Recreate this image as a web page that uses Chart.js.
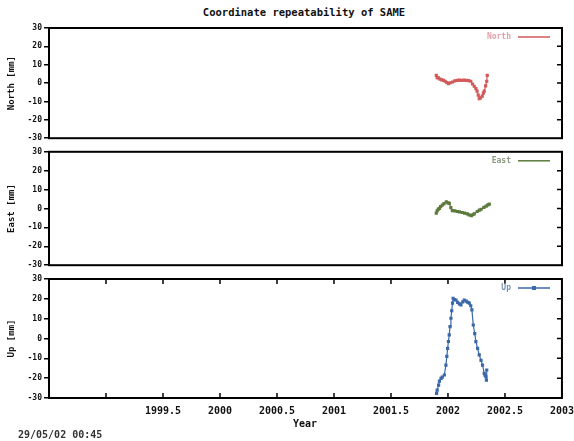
<!DOCTYPE html>
<html>
<head>
<meta charset="utf-8">
<script src="https://cdn.jsdelivr.net/npm/chart.js@4.4.0/dist/chart.umd.min.js"></script>
<style>
body{margin:0;background:#fff;width:574px;height:441px;position:relative;overflow:hidden;font-family:'DejaVu Sans Mono',monospace;font-weight:bold;color:#111}
canvas{position:absolute;left:0}
.t{position:absolute;white-space:nowrap}
</style>
</head>
<body>
<div class="t" style="left:0;width:608px;text-align:center;top:6px;font-size:10.5px">Coordinate repeatability of SAME</div>
<canvas id="north" width="574" height="145" style="top:0"></canvas>
<canvas id="east" width="574" height="127" style="top:145px"></canvas>
<canvas id="up" width="574" height="169" style="top:272px"></canvas>
<div class="t" style="left:293px;top:418px;font-size:10px">Year</div>
<div class="t" style="left:18px;top:429px;font-size:10px;color:#333">29/05/02 00:45</div>
<script>
// Time axis and tick labels
let xMin = 1998.5, xMax = 2003;
let xTickLabels = ['', '', '1999.5', '2000', '2000.5', '2001', '2001.5', '2002', '2002.5', '2003'];
let yTicks = [-30, -20, -10, 0, 10, 20, 30];

// North component (mm)
let northYears = [2001.897, 2001.905, 2001.915, 2001.93, 2001.945, 2001.96, 2001.975, 2001.99, 2002.005, 2002.02,
  2002.04, 2002.06, 2002.08, 2002.10, 2002.12, 2002.14, 2002.16, 2002.18, 2002.20, 2002.215,
  2002.23, 2002.245, 2002.255, 2002.265, 2002.274, 2002.285, 2002.30, 2002.31, 2002.318, 2002.33, 2002.34, 2002.344];
let northMm = [4.2, 3.0, 2.8, 2.2, 1.8, 1.5, 1.0, 0.3, -0.3, 0.2,
  0.6, 1.2, 1.5, 1.6, 1.5, 1.6, 1.5, 1.3, 1.0, -0.5,
  -1.7, -3.0, -4.4, -6.5, -8.5, -8.0, -7.1, -5.5, -4.4, -1.5, 1.0, 4.2];

// East component (mm)
let eastYears = [2001.897, 2001.905, 2001.915, 2001.924, 2001.935, 2001.95, 2001.965, 2001.985, 2002.0, 2002.011,
  2002.025, 2002.038, 2002.06, 2002.082, 2002.10, 2002.125, 2002.145, 2002.169, 2002.185, 2002.204,
  2002.218, 2002.23, 2002.256, 2002.275, 2002.291, 2002.315, 2002.335, 2002.35, 2002.362];
let eastMm = [-2.4, -1.2, -0.3, 0.1, 1.0, 1.8, 2.6, 3.5, 3.0, 2.7,
  0.5, -1.1, -1.3, -1.6, -1.8, -2.1, -2.4, -2.8, -3.4, -3.8,
  -3.3, -2.8, -1.6, -0.9, -0.4, 0.6, 1.3, 1.9, 2.3];

// Up component (mm)
let upYears = [2001.900, 2001.905, 2001.918, 2001.925, 2001.939, 2001.950, 2001.968, 2001.982, 2001.990, 2001.997,
  2002.004, 2002.011, 2002.018, 2002.026, 2002.033, 2002.040, 2002.045, 2002.055, 2002.070, 2002.085,
  2002.100, 2002.114, 2002.130, 2002.143, 2002.160, 2002.175, 2002.187, 2002.200, 2002.210, 2002.222,
  2002.235, 2002.245, 2002.260, 2002.274, 2002.290, 2002.303, 2002.318, 2002.325, 2002.333, 2002.337, 2002.340];
let upMm = [-27.7, -26, -23.5, -21.5, -20.1, -19.5, -18.4, -13.4, -9, -5,
  -1.5, 1.8, 6, 10.2, 14, 17.8, 20.3, 19.6, 19.4, 18.2,
  17.5, 16.9, 18.5, 19.4, 18.8, 18.2, 17.8, 16.5, 14.4, 6.8,
  2.5, -1.6, -5, -8.3, -11, -13.4, -17.6, -18.5, -19.3, -21, -15.9];

Chart.defaults.font.family = "'DejaVu Sans Mono', monospace";
Chart.defaults.font.weight = 'bold';
Chart.defaults.color = '#111';

// frame, inward ticks and little legend
let framePlugin = {
  id: 'frame',
  afterDraw(chart, args, opts) {
    let ctx = chart.ctx, a = chart.chartArea;
    ctx.save();
    ctx.strokeStyle = '#000';
    ctx.lineWidth = 1.5;
    ctx.beginPath();
    chart.scales.y.ticks.forEach(t => {
      if (t.value <= -30 || t.value >= 30) return;
      let py = chart.scales.y.getPixelForValue(t.value);
      ctx.moveTo(a.right - 5, py); ctx.lineTo(a.right, py);
    });
    if (opts.xTicks) {
      chart.scales.x.ticks.forEach(t => {
        if (t.value <= xMin || t.value >= xMax) return;
        let px = chart.scales.x.getPixelForValue(t.value);
        ctx.moveTo(px, a.top); ctx.lineTo(px, a.top + 5);
        ctx.moveTo(px, a.bottom - 5); ctx.lineTo(px, a.bottom);
      });
    }
    ctx.stroke();
    ctx.lineWidth = 2;
    ctx.strokeRect(a.left, a.top, a.right - a.left, a.bottom - a.top);
    // legend
    let ly = a.top + 9;
    ctx.font = "bold 8px 'DejaVu Sans Mono'";
    ctx.fillStyle = opts.textColor;
    ctx.textAlign = 'right';
    ctx.textBaseline = 'middle';
    ctx.fillText(opts.label, 511, ly);
    ctx.strokeStyle = opts.color;
    ctx.lineWidth = 1.5;
    ctx.beginPath(); ctx.moveTo(518, ly); ctx.lineTo(550, ly); ctx.stroke();
    if (opts.marker) { ctx.fillStyle = opts.color; ctx.fillRect(532, ly - 2, 4, 4); }
    ctx.restore();
  }
};

function makePanel(id, years, values, color, label, axisTitle, pad, showX, textColor, marker) {
  let pts = years.map((y, i) => ({x: y, y: values[i]}));
  return new Chart(document.getElementById(id).getContext('2d'), {
    type: 'scatter',
    data: {
      datasets: [{
        label: label,
        data: pts,
        showLine: true,
        borderColor: color,
        backgroundColor: color,
        borderWidth: 1.2,
        pointRadius: 1.4,
        pointStyle: 'rect',
        tension: 0
      }]
    },
    options: {
      responsive: false,
      animation: false,
      events: [],
      layout: {padding: pad},
      plugins: {
        legend: {display: false},
        tooltip: {enabled: false},
        frame: {label: label, color: color, textColor: textColor, xTicks: showX, marker: marker}
      },
      scales: {
        x: {
          type: 'linear', min: xMin, max: xMax, display: showX,
          grid: {display: true, drawOnChartArea: false, drawTicks: true, tickLength: 7, color: 'rgba(0,0,0,0)'},
          border: {display: false},
          afterBuildTicks: s => { s.ticks = xTickLabels.map((l, i) => ({value: xMin + i * 0.5})); },
          afterFit: s => { if (showX) s.height = 20; },
          ticks: {
            autoSkip: false, maxRotation: 0, padding: 0,
            font: {size: 10, weight: 'bold'}, color: '#111',
            callback: (v, i) => xTickLabels[i]
          }
        },
        y: {
          min: -30, max: 30,
          afterBuildTicks: s => { s.ticks = yTicks.map(v => ({value: v})); },
          afterFit: s => { s.width = 49; },
          grid: {drawOnChartArea: false, tickLength: 5, color: '#000', lineWidth: 1.5},
          border: {display: false},
          ticks: {padding: 2, font: {size: 8, weight: 'bold'}, color: '#111'},
          title: {display: true, text: axisTitle, font: {size: 9, weight: 'bold'}, color: '#111', padding: {top: 6, bottom: 0}}
        }
      }
    },
    plugins: [framePlugin]
  });
}

makePanel('north', northYears, northMm, '#d25a5a', 'North', 'North [mm]', {left: 0, right: 12, top: 28, bottom: 6}, false, '#e0a0a8', false);
makePanel('east', eastYears, eastMm, '#5c7a3c', 'East', 'East [mm]', {left: 0, right: 12, top: 5, bottom: 5}, false, '#8a9a80', false);
makePanel('up', upYears, upMm, '#3a68a8', 'Up', 'Up [mm]', {left: 0, right: 11, top: 7, bottom: 23}, true, '#7a90b0', true);
</script>
</body>
</html>
